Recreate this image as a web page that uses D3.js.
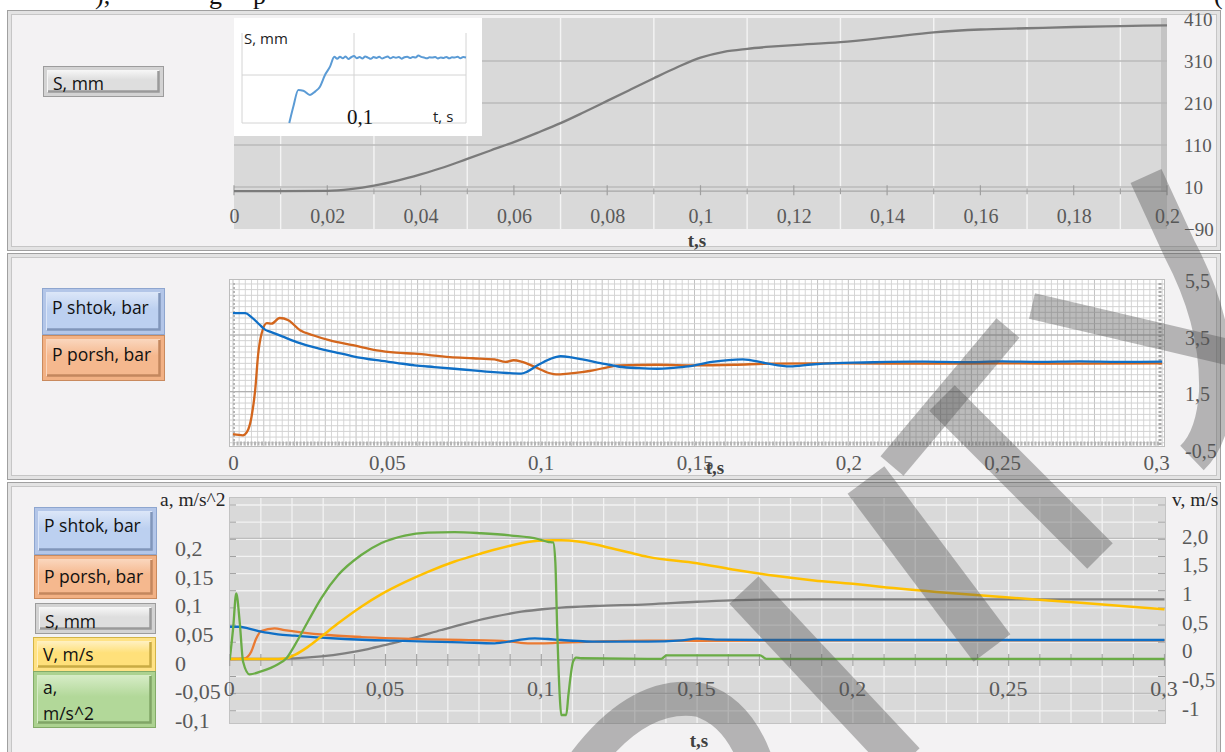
<!DOCTYPE html>
<html>
<head>
<meta charset="utf-8">
<script src="https://cdn.jsdelivr.net/npm/d3@7"></script>
<style>
  body { margin: 0; background: #ffffff; }
  svg { display: block; }
</style>
</head>
<body>
<svg id="chart" width="1225" height="752"></svg>
<script>
// ---- Data ----

// Top panel: stroke S (mm) vs t (s)
const sTopT  = [0, 0.01, 0.02, 0.025, 0.03, 0.035, 0.04, 0.045, 0.05, 0.055, 0.06, 0.065, 0.07, 0.075, 0.08, 0.085, 0.09, 0.095, 0.1, 0.105, 0.11, 0.115, 0.12, 0.13, 0.14, 0.15, 0.16, 0.17, 0.18, 0.19, 0.2];
const sTopMm = [0, 0, 1, 5, 13, 25, 40, 57, 77, 97, 117, 139, 162, 188, 215, 242, 269, 295, 318, 332, 339, 344, 348, 355, 366, 378, 385, 388, 391, 393, 395];

// Inset (measured S with sensor noise)
const insetT = [0.0422, 0.0458, 0.0503, 0.0547, 0.0607, 0.0652, 0.0696, 0.0741, 0.0786, 0.0824,
  0.085, 0.0875, 0.09, 0.0925, 0.095, 0.0975, 0.1, 0.1025, 0.105, 0.1075, 0.11, 0.1125, 0.115, 0.1175,
  0.12, 0.1225, 0.125, 0.1275, 0.13, 0.1325, 0.135, 0.1375, 0.14, 0.1425, 0.145, 0.1475, 0.15, 0.1525,
  0.155, 0.1575, 0.16, 0.1625, 0.165, 0.1675, 0.17, 0.1725, 0.175, 0.1775, 0.18, 0.1825, 0.185, 0.1875,
  0.19, 0.1925, 0.195, 0.1975, 0.2];
const insetS = [0, 102, 206, 202, 175, 196, 227, 300, 352, 414,
  402, 414, 404, 416, 400, 411, 418, 405, 413, 403, 415, 409, 401, 412,
  407, 414, 403, 410, 416, 404, 412, 408, 413, 402, 411, 414, 406, 412,
  409, 422, 413, 409, 404, 411, 409, 412, 403, 410, 406, 413, 404, 411,
  409, 414, 405, 412, 410];

// Middle panel: pressures (bar)
const pShtokT = [0, 0.004, 0.006, 0.0085, 0.0104, 0.012, 0.016, 0.0207, 0.028, 0.033, 0.039, 0.0467, 0.053, 0.059, 0.0655, 0.0719, 0.078, 0.0847, 0.089, 0.0937, 0.0955, 0.099, 0.103, 0.1065, 0.11, 0.114, 0.1194, 0.1256, 0.132, 0.138, 0.143, 0.148, 0.1557, 0.1657, 0.173, 0.181, 0.188, 0.196, 0.205, 0.213, 0.225, 0.237, 0.25, 0.262, 0.275, 0.288, 0.302];
const pShtok  = [4.27, 4.27, 4.13, 3.88, 3.69, 3.62, 3.45, 3.25, 3.02, 2.9, 2.75, 2.61, 2.52, 2.43, 2.37, 2.31, 2.25, 2.19, 2.16, 2.14, 2.2, 2.43, 2.65, 2.75, 2.71, 2.63, 2.51, 2.38, 2.33, 2.31, 2.34, 2.39, 2.55, 2.64, 2.51, 2.39, 2.46, 2.51, 2.53, 2.55, 2.56, 2.54, 2.57, 2.55, 2.57, 2.55, 2.56];
const pPorshT = [0, 0.0032, 0.0045, 0.006, 0.0072, 0.0082, 0.0093, 0.011, 0.0125, 0.0152, 0.018, 0.0218, 0.026, 0.0315, 0.039, 0.0467, 0.053, 0.059, 0.0705, 0.078, 0.085, 0.0886, 0.0912, 0.094, 0.098, 0.1027, 0.105, 0.109, 0.117, 0.122, 0.1256, 0.138, 0.15, 0.163, 0.175, 0.2, 0.225, 0.25, 0.275, 0.302];
const pPorsh  = [0, -0.04, 0.07, 0.6, 1.55, 2.84, 3.55, 3.92, 3.9, 4.1, 4.02, 3.67, 3.49, 3.31, 3.14, 2.96, 2.88, 2.84, 2.72, 2.68, 2.64, 2.55, 2.61, 2.55, 2.38, 2.16, 2.11, 2.14, 2.25, 2.37, 2.43, 2.45, 2.43, 2.45, 2.49, 2.5, 2.49, 2.5, 2.49, 2.5];

// Bottom panel: acceleration a (m/s^2)
const accT = [0, 0.0011, 0.0021, 0.0032, 0.0043, 0.0064, 0.0101, 0.0155, 0.0182, 0.0209, 0.0251, 0.0294, 0.0348, 0.0422, 0.0487, 0.0562, 0.0636, 0.0722, 0.0807, 0.0904, 0.0989, 0.1021, 0.1038, 0.1045, 0.1051, 0.1059, 0.1064, 0.108, 0.1087, 0.1102, 0.1112, 0.1128, 0.1342, 0.1385, 0.1402, 0.1702, 0.1722, 0.3];
const accA = [0, 0.055, 0.116, 0.067, -0.003, -0.025, -0.02, -0.0075, 0.003, 0.026, 0.067, 0.108, 0.148, 0.183, 0.204, 0.217, 0.222, 0.223, 0.221, 0.217, 0.211, 0.206, 0.205, 0.171, 0.055, -0.061, -0.096, -0.096, -0.061, -0.003, 0.004, 0.003, 0.002, 0.002, 0.008, 0.008, 0.002, 0.002];

// Bottom panel: velocity V (m/s)
const velT = [0, 0.0155, 0.0182, 0.0209, 0.0251, 0.0294, 0.0348, 0.0422, 0.0487, 0.0562, 0.0636, 0.0722, 0.0807, 0.0904, 0.0989, 0.1038, 0.1064, 0.1118, 0.1171, 0.1225, 0.1279, 0.1342, 0.15, 0.1625, 0.175, 0.1875, 0.2, 0.2087, 0.23, 0.25, 0.273, 0.3];
const velV = [-0.19, -0.19, -0.18, -0.12, 0.02, 0.2, 0.43, 0.72, 0.94, 1.15, 1.33, 1.51, 1.65, 1.79, 1.87, 1.88, 1.88, 1.86, 1.81, 1.74, 1.67, 1.59, 1.48, 1.36, 1.26, 1.18, 1.12, 1.07, 0.965, 0.88, 0.79, 0.675];

// Bottom panel: S (mm) on a hidden axis
const sBotT  = [0, 0.0155, 0.0209, 0.0294, 0.0369, 0.0444, 0.0508, 0.0594, 0.0679, 0.0765, 0.085, 0.0936, 0.1011, 0.1064, 0.1171, 0.1342, 0.15, 0.1625, 0.187, 0.3];
const sBotMm = [0, 0, 4.6, 18, 38, 66, 97, 141, 192, 240, 280, 313, 331, 340, 351, 362, 379, 390, 395, 395];

// Bottom panel: pressures (bar) on a hidden axis
const pShtokBotT = [0, 0.0027, 0.0059, 0.0101, 0.0155, 0.0209, 0.0294, 0.0369, 0.0444, 0.053, 0.0636, 0.0743, 0.085, 0.0872, 0.0925, 0.0979, 0.1021, 0.1064, 0.1118, 0.1171, 0.1342, 0.145, 0.15, 0.156, 0.17, 0.2, 0.25, 0.3];
const pShtokBot  = [4.42, 4.42, 4.21, 3.74, 3.38, 3.19, 2.92, 2.74, 2.6, 2.51, 2.37, 2.29, 2.15, 2.23, 2.6, 2.83, 2.74, 2.6, 2.47, 2.37, 2.37, 2.55, 2.78, 2.65, 2.6, 2.6, 2.6, 2.6];
const pPorshBotT = [0, 0.0048, 0.0069, 0.0085, 0.0101, 0.0144, 0.0176, 0.0229, 0.0315, 0.0422, 0.0529, 0.0636, 0.0743, 0.085, 0.0904, 0.0957, 0.1011, 0.1064, 0.1171, 0.1342, 0.15, 0.2, 0.3];
const pPorshBot  = [0, 0.1, 1.0, 2.8, 3.84, 4.2, 3.97, 3.66, 3.29, 3.01, 2.83, 2.7, 2.6, 2.51, 2.37, 2.15, 2.15, 2.23, 2.37, 2.51, 2.5, 2.55, 2.55];

// Tick values / labels
const topXTicks  = [0, 0.02, 0.04, 0.06, 0.08, 0.1, 0.12, 0.14, 0.16, 0.18, 0.2];
const topYTicks  = [-90, 10, 110, 210, 310, 410];
const midXTicks  = [0, 0.05, 0.1, 0.15, 0.2, 0.25, 0.3];
const midYTicks  = [-0.5, 1.5, 3.5, 5.5];
const botXTicks  = [0, 0.05, 0.1, 0.15, 0.2, 0.25, 0.3];
const accTicks   = [-0.1, -0.05, 0, 0.05, 0.1, 0.15, 0.2];
const velTicks   = [-1, -0.5, 0, 0.5, 1, 1.5, 2];
const velLabels  = ["-1", "-0,5", "0", "0,5", "1", "1,5", "2,0"];

// ---- Helpers ----
const svg = d3.select("#chart");
const SERIF = "'Liberation Serif', 'Times New Roman', serif";
const SANS = "'Open Sans', 'Noto Sans', sans-serif";
const commaFmt = d => d === 0 ? "0" : String(+d.toFixed(3)).replace(".", ",");

const defs = svg.append("defs");
function clipRect(id, x, y, w, h) {
  defs.append("clipPath").attr("id", id)
    .append("rect").attr("x", x).attr("y", y).attr("width", w).attr("height", h);
  return `url(#${id})`;
}

function gradient(id, stops) {
  const g = defs.append("linearGradient").attr("id", id)
    .attr("x1", 0).attr("y1", 0).attr("x2", 0).attr("y2", 1);
  stops.forEach(([o, c]) => g.append("stop").attr("offset", o).attr("stop-color", c));
  return `url(#${id})`;
}

function series(g, xs, ys, xScale, yScale, color, width) {
  const line = d3.line()
    .x(d => xScale(d[0]))
    .y(d => yScale(d[1]))
    .curve(d3.curveMonotoneX);
  g.append("path")
    .datum(d3.zip(xs, ys))
    .attr("d", line)
    .attr("fill", "none")
    .attr("stroke", color)
    .attr("stroke-width", width)
    .attr("stroke-linejoin", "round");
}

// Bevelled legend button like in the reference
function button(x, y, w, h, style, lines, baselines) {
  const id = "btn" + Math.round(x) + "_" + Math.round(y);
  const fillInner = gradient(id, [[0, style.light], [0.45, style.base], [1, style.base]]);
  const b = svg.append("g");
  b.append("rect").attr("x", x + 0.5).attr("y", y + 0.5).attr("width", w).attr("height", h)
    .attr("fill", style.outer).attr("stroke", style.edge);
  b.append("rect").attr("x", x + 4.5).attr("y", y + 4.5).attr("width", w - 9).attr("height", h - 9)
    .attr("fill", fillInner).attr("stroke", style.light).attr("stroke-width", 1);
  b.append("path")
    .attr("d", `M${x + w - 4.5},${y + 5} V${y + h - 4.5} H${x + 5}`)
    .attr("fill", "none").attr("stroke", style.shadow).attr("stroke-width", 2.5);
  lines.forEach((t, i) => {
    b.append("text").attr("x", x + 10).attr("y", baselines[i])
      .attr("font-family", SANS).attr("font-size", 17.5).attr("fill", "#111")
      .text(t);
  });
}

const BTN = {
  blue:   { outer: "#b3c6e8", base: "#bcd0f0", light: "#dbe6f8", edge: "#8ea6cf", shadow: "#8196ba" },
  orange: { outer: "#f2b184", base: "#f5b88e", light: "#fad6bd", edge: "#c98a5d", shadow: "#c3875e" },
  gray:   { outer: "#d3d3d3", base: "#dedede", light: "#f6f6f6", edge: "#9c9c9c", shadow: "#9a9a9a" },
  yellow: { outer: "#ffe285", base: "#ffe07a", light: "#fff0bf", edge: "#d2b446", shadow: "#c9ab43" },
  green:  { outer: "#acd290", base: "#b2d899", light: "#d6ecc6", edge: "#83ab68", shadow: "#80a566" }
};

// ---- Top strip: cut-off line of document text ----
const topText = svg.append("g").attr("font-family", SERIF).attr("font-size", 26).attr("fill", "#111");
[["),", 95], ["g", 209], ["p", 253], ["(", 1214]].forEach(([t, x]) =>
  topText.append("text").attr("x", x).attr("y", 4).text(t));

// ---- Panel frames ----
const panels = [
  { y0: 10, y1: 250 },
  { y0: 253, y1: 479 },
  { y0: 482, y1: 762 }
];
panels.forEach(p => {
  svg.append("rect").attr("x", 7.5).attr("y", p.y0 + 0.5).attr("width", 1213).attr("height", p.y1 - p.y0)
    .attr("fill", "#e3e3e3").attr("stroke", "#a0a0a0");
  svg.append("rect").attr("x", 11.5).attr("y", p.y0 + 4.5).attr("width", 1205).attr("height", p.y1 - p.y0 - 8)
    .attr("fill", "#f3f2f3").attr("stroke", "#c6c6c6");
});

// =============== Panel 1 : S, mm ===============
const x1 = d3.scaleLinear().domain([0, 0.2]).range([234, 1167]);
const y1 = d3.scaleLinear().domain([-90, 410]).range([229, 19]);
const p1 = svg.append("g");

p1.append("rect").attr("x", 234).attr("y", 18).attr("width", 933).attr("height", 211).attr("fill", "#d9d9d9");
p1.append("rect").attr("x", 1161).attr("y", 18).attr("width", 6).attr("height", 174).attr("fill", "#c4c4c4");

p1.selectAll(".vg").data(d3.range(1, 20, 2).map(k => k / 100)).join("line")
  .attr("x1", d => x1(d)).attr("x2", d => x1(d)).attr("y1", 18).attr("y2", 229)
  .attr("stroke", "#f4f4f4").attr("stroke-width", 1.4);
p1.selectAll(".hg").data([10, 110, 210, 310]).join("line")
  .attr("x1", 234).attr("x2", 1167).attr("y1", d => y1(d)).attr("y2", d => y1(d))
  .attr("stroke", "#bababa").attr("stroke-width", 1.3);

// horizontal axis (crosses at S = 0) with ticks
p1.append("line").attr("x1", 234).attr("x2", 1167).attr("y1", y1(0)).attr("y2", y1(0))
  .attr("stroke", "#a6a6a6").attr("stroke-width", 1.3);
p1.selectAll(".tk").data(d3.range(0, 21).map(k => k / 100)).join("line")
  .attr("x1", d => x1(d)).attr("x2", d => x1(d))
  .attr("y1", d => y1(0) - (Math.round(d * 100) % 2 === 0 ? 6 : 3))
  .attr("y2", d => y1(0) + (Math.round(d * 100) % 2 === 0 ? 4 : 3))
  .attr("stroke", "#a0a0a0").attr("stroke-width", 1.2);

const c1 = p1.append("g").attr("clip-path", clipRect("clip1", 234, 18, 933, 211));
series(c1, sTopT, sTopMm, x1, y1, "#7b7b7b", 2.3);

p1.append("g").attr("transform", "translate(0,216)")
  .call(d3.axisBottom(x1).tickValues(topXTicks).tickFormat(commaFmt).tickSize(0).tickPadding(0))
  .call(g => g.select(".domain").remove())
  .call(g => g.selectAll("text").attr("dy", "0.35em").attr("fill", "#595959").attr("font-family", SERIF).attr("font-size", 20));

p1.append("g").attr("transform", "translate(1184,0)")
  .call(d3.axisRight(y1).tickValues(topYTicks).tickFormat(d3.format("d")).tickSize(0).tickPadding(0))
  .call(g => g.select(".domain").remove())
  .call(g => g.selectAll("text").attr("dy", "0.35em").attr("fill", "#595959").attr("font-family", SERIF).attr("font-size", 19));

p1.append("text").attr("x", 697).attr("y", 247).attr("text-anchor", "middle")
  .attr("font-family", SERIF).attr("font-size", 19).attr("font-weight", "bold").attr("fill", "#404040")
  .text("t,s");

// inset
const ix = d3.scaleLinear().domain([0, 0.2]).range([242, 466]);
const iy = d3.scaleLinear().domain([0, 300]).range([123, 75]);
p1.append("rect").attr("x", 234).attr("y", 18).attr("width", 248).attr("height", 118).attr("fill", "#ffffff");
p1.selectAll(".ivg").data([0, 0.1, 0.2]).join("line")
  .attr("x1", d => ix(d)).attr("x2", d => ix(d)).attr("y1", 33).attr("y2", iy(0))
  .attr("stroke", "#d4d4d4").attr("stroke-width", 1);
p1.selectAll(".ihg").data([0, 300]).join("line")
  .attr("x1", ix(0)).attr("x2", ix(0.2)).attr("y1", d => iy(d)).attr("y2", d => iy(d))
  .attr("stroke", "#d4d4d4").attr("stroke-width", 1);
const ci = p1.append("g").attr("clip-path", clipRect("clipi", 242, 30, 226, 94));
series(ci, insetT, insetS, ix, iy, "#5b9bd5", 2);
p1.append("text").attr("x", 244).attr("y", 44).attr("font-family", SANS).attr("font-size", 15).attr("fill", "#222").text("S, mm");
p1.append("text").attr("x", 347).attr("y", 124).attr("font-family", SERIF).attr("font-size", 21).attr("fill", "#111").text("0,1");
p1.append("text").attr("x", 433).attr("y", 122).attr("font-family", SANS).attr("font-size", 15).attr("fill", "#222").text("t, s");

button(43, 66, 120, 30, BTN.gray, ["S, mm"], [90]);

// =============== Panel 2 : pressures ===============
const x2 = d3.scaleLinear().domain([0, 0.3]).range([233, 1156]);
const y2 = d3.scaleLinear().domain([-0.5, 5.5]).range([448.4, 278.3]);
const p2 = svg.append("g");

p2.append("rect").attr("x", 229.5).attr("y", 279.5).attr("width", 935).attr("height", 167)
  .attr("fill", "#ffffff").attr("stroke", "#bdbdbd");
const g2 = p2.append("g").attr("clip-path", clipRect("clip2grid", 230, 280, 934, 166));
g2.selectAll(".mv").data(d3.range(0, 153).map(k => k * 0.002)).join("line")
  .attr("x1", d => x2(d)).attr("x2", d => x2(d)).attr("y1", 280).attr("y2", 446)
  .attr("stroke", d => Math.round(d * 1000) % 10 === 0 ? "#c2c2c2" : "#d6d6d6").attr("stroke-width", 1);
g2.selectAll(".mh").data(d3.range(0, 31).map(k => -0.5 + k * 0.2)).join("line")
  .attr("x1", 230).attr("x2", 1164).attr("y1", d => y2(d)).attr("y2", d => y2(d))
  .attr("stroke", "#d2d2d2").attr("stroke-width", 1);
g2.selectAll(".Mh").data([1.5, 3.5]).join("line")
  .attr("x1", 230).attr("x2", 1164).attr("y1", d => y2(d)).attr("y2", d => y2(d))
  .attr("stroke", "#b0b0b0").attr("stroke-width", 1.2);
// dashed plot borders
p2.append("line").attr("x1", 234).attr("x2", 234).attr("y1", 283).attr("y2", 446)
  .attr("stroke", "#b5b5b5").attr("stroke-width", 2).attr("stroke-dasharray", "2,2");
p2.append("line").attr("x1", 233).attr("x2", 1160).attr("y1", 443.5).attr("y2", 443.5)
  .attr("stroke", "#b5b5b5").attr("stroke-width", 4).attr("stroke-dasharray", "2,1.5");
p2.append("line").attr("x1", 1160).attr("x2", 1160).attr("y1", 283).attr("y2", 446)
  .attr("stroke", "#a9a9a9").attr("stroke-width", 3).attr("stroke-dasharray", "2,2");

const c2 = p2.append("g").attr("clip-path", clipRect("clip2", 230, 280, 934, 166));
series(c2, pPorshT, pPorsh, x2, y2, "#d3661d", 2.3);
series(c2, pShtokT, pShtok, x2, y2, "#0f6fc6", 2.3);

p2.append("g").attr("transform", "translate(0,463)")
  .call(d3.axisBottom(x2).tickValues(midXTicks).tickFormat(commaFmt).tickSize(0).tickPadding(0))
  .call(g => g.select(".domain").remove())
  .call(g => g.selectAll("text").attr("dy", "0.35em").attr("fill", "#595959").attr("font-family", SERIF).attr("font-size", 21));
p2.append("g").attr("transform", "translate(1185,2)")
  .call(d3.axisRight(y2).tickValues(midYTicks).tickFormat(commaFmt).tickSize(0).tickPadding(0))
  .call(g => g.select(".domain").remove())
  .call(g => g.selectAll("text").attr("dy", "0.35em").attr("fill", "#595959").attr("font-family", SERIF).attr("font-size", 20));
p2.append("text").attr("x", 715).attr("y", 474).attr("text-anchor", "middle")
  .attr("font-family", SERIF).attr("font-size", 19).attr("font-weight", "bold").attr("fill", "#404040")
  .text("t,s");

button(42, 288, 122, 46, BTN.blue, ["P shtok, bar"], [314]);
button(42, 335, 122, 45, BTN.orange, ["P porsh, bar"], [361]);

// =============== Panel 3 : a, V, S, P ===============
const x3 = d3.scaleLinear().domain([0, 0.3]).range([229.7, 1164.5]);
const aY = d3.scaleLinear().domain([-0.1, 0.2]).range([717.3, 545.3]);
const vY = d3.scaleLinear().domain([-1, 2]).range([705.3, 533.4]);
const pY = d3.scaleLinear().domain([0, 5]).range([659, 622.5]);
const sY = d3.scaleLinear().domain([0, 400]).range([659, 598.6]);
const p3 = svg.append("g");

p3.append("rect").attr("x", 229.5).attr("y", 497.5).attr("width", 936).attr("height", 226)
  .attr("fill", "#d9d9d9").attr("stroke", "#c3c3c3");
const hGrid3 = d3.range(13).map(k => 505 + k * 17.15);
p3.selectAll(".hw").data(hGrid3).join("line")
  .attr("x1", 230).attr("x2", 1165).attr("y1", d => d).attr("y2", d => d)
  .attr("stroke", "#f2f2f2").attr("stroke-width", 1.3);
p3.selectAll(".vw").data(d3.range(1, 30).map(k => k / 100)).join("line")
  .attr("x1", d => x3(d)).attr("x2", d => x3(d)).attr("y1", 498).attr("y2", 723)
  .attr("stroke", "#f2f2f2").attr("stroke-width", 1.3);
p3.selectAll(".hd").data([538.3, 693.3]).join("line")
  .attr("x1", 230).attr("x2", 1165).attr("y1", d => d).attr("y2", d => d)
  .attr("stroke", "#bdbdbd").attr("stroke-width", 1.3);
p3.selectAll(".tl").data(hGrid3).join("line")
  .attr("x1", 230).attr("x2", 236).attr("y1", d => d).attr("y2", d => d)
  .attr("stroke", "#9d9d9d").attr("stroke-width", 1);
p3.selectAll(".tr").data(hGrid3).join("line")
  .attr("x1", 1158).attr("x2", 1165).attr("y1", d => d).attr("y2", d => d)
  .attr("stroke", "#9d9d9d").attr("stroke-width", 1);
p3.append("line").attr("x1", 230).attr("x2", 1165).attr("y1", aY(0)).attr("y2", aY(0))
  .attr("stroke", "#a3a3a3").attr("stroke-width", 1.3);
p3.selectAll(".tx").data(d3.range(0, 31).map(k => k / 100)).join("line")
  .attr("x1", d => x3(d)).attr("x2", d => x3(d))
  .attr("y1", aY(0) - 6).attr("y2", aY(0) + 6)
  .attr("stroke", "#a3a3a3").attr("stroke-width", 1.2);

const c3 = p3.append("g").attr("clip-path", clipRect("clip3", 230, 498, 935, 225));
series(c3, sBotT, sBotMm, x3, sY, "#7f7f7f", 2.3);
series(c3, pPorshBotT, pPorshBot, x3, pY, "#ea7a32", 2.3);
series(c3, pShtokBotT, pShtokBot, x3, pY, "#0f6fc6", 2.3);
series(c3, velT, velV, x3, vY, "#ffc000", 2.5);
series(c3, accT, accA, x3, aY, "#6aac46", 2.3);

p3.append("g").attr("transform", "translate(-1,688)")
  .call(d3.axisBottom(x3).tickValues(botXTicks).tickFormat(commaFmt).tickSize(0).tickPadding(0))
  .call(g => g.select(".domain").remove())
  .call(g => g.selectAll("text").attr("dy", "0.35em").attr("fill", "#595959").attr("font-family", SERIF).attr("font-size", 22));

p3.append("g").attr("font-family", SERIF).attr("font-size", 22).attr("fill", "#595959")
  .selectAll("text").data(accTicks).join("text")
  .attr("x", 175).attr("y", d => aY(d) + 3).attr("dy", "0.35em")
  .text(commaFmt);
p3.append("g").attr("font-family", SERIF).attr("font-size", 21).attr("fill", "#595959")
  .selectAll("text").data(velTicks).join("text")
  .attr("x", 1182).attr("y", d => vY(d) + 3).attr("dy", "0.35em")
  .text((d, i) => velLabels[i]);

p3.append("text").attr("x", 160).attr("y", 506).attr("font-family", SERIF).attr("font-size", 19.5).attr("fill", "#262626").text("a, m/s^2");
p3.append("text").attr("x", 1172).attr("y", 506).attr("font-family", SERIF).attr("font-size", 19.5).attr("fill", "#262626").text("v, m/s");
p3.append("text").attr("x", 699).attr("y", 747).attr("text-anchor", "middle")
  .attr("font-family", SERIF).attr("font-size", 19).attr("font-weight", "bold").attr("fill", "#404040")
  .text("t,s");

button(34, 507, 122, 47, BTN.blue, ["P shtok, bar"], [532]);
button(34, 555, 122, 43, BTN.orange, ["P porsh, bar"], [583]);
button(35, 603, 120, 30, BTN.gray, ["S, mm"], [628]);
button(33, 637, 122, 34, BTN.yellow, ["V, m/s"], [661]);
button(33, 671, 122, 56, BTN.green, ["a,", "m/s^2"], [694, 720]);

// ---- Watermark overlay (decoration, page-pixel geometry) ----
const wm = svg.append("g").attr("fill", "none").attr("stroke", "#555555").attr("stroke-opacity", 0.4)
  .attr("stroke-linecap", "butt").style("pointer-events", "none");
const wmStrokes = [
  ["M1146,176 L1180,250 Q1218,322 1216,392 Q1213,438 1192,458", 34],
  ["M1032,306 L1228,352", 26],
  ["M1008,328 L892,466", 30],
  ["M942,398 L1100,556", 36],
  ["M866,480 L992,648", 46],
  ["M744,590 L905,762", 40],
  ["M585,762 Q640,690 700,700 Q738,712 756,762", 34]
];
wmStrokes.forEach(([d, w]) => wm.append("path").attr("d", d).attr("stroke-width", w));
</script>
</body>
</html>
